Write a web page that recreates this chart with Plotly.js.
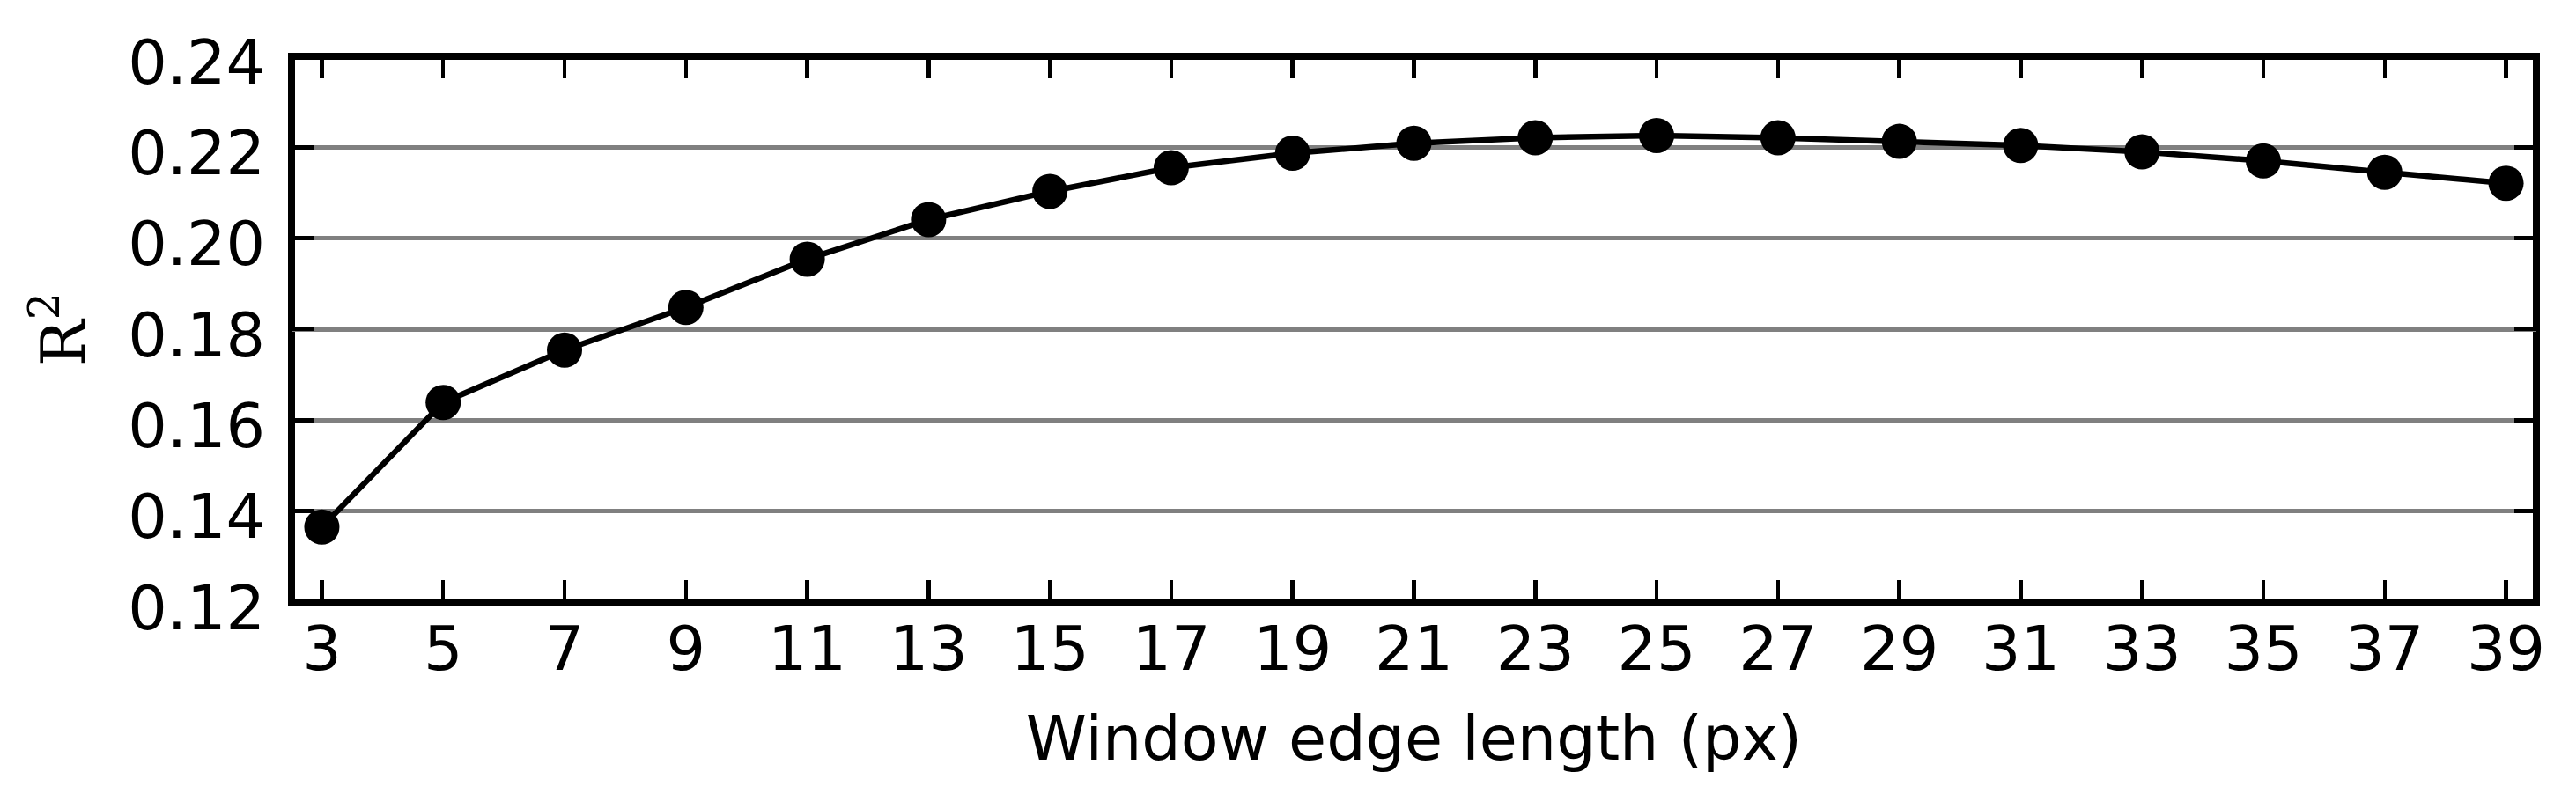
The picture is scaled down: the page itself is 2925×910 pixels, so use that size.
<!DOCTYPE html>
<html>
<head>
<meta charset="utf-8">
<script src="https://cdn.plot.ly/plotly-3.0.1.min.js"></script>
<style>
  html, body { margin: 0; padding: 0; background: #fff; }
  #chart { width: 2925px; height: 910px; }
</style>
</head>
<body>
<div id="chart"></div>
<script>
  // window edge length (px) vs R^2
  const windowSizes = [3, 5, 7, 9, 11, 13, 15, 17, 19, 21, 23, 25, 27, 29, 31, 33, 35, 37, 39];
  const r2Values = [
    0.1365, 0.1639, 0.1754, 0.1848, 0.1954, 0.2041, 0.2103, 0.2155, 0.2187, 0.2209,
    0.2221, 0.2226, 0.2221, 0.2213, 0.2204, 0.2190, 0.2170, 0.2145, 0.2121,
  ];
  const yTicks = [0.12, 0.14, 0.16, 0.18, 0.20, 0.22, 0.24];
  const yTickText = ["0.12", "0.14", "0.16", "0.18", "0.20", "0.22", "0.24"];

  const FONT = "DejaVu Sans, sans-serif";
  const FS = 70;

  const trace = {
    x: windowSizes,
    y: r2Values,
    type: "scatter",
    mode: "lines+markers",
    line: { color: "#000", width: 6.5 },
    marker: { color: "#000", size: 40 },
    hoverinfo: "skip",
  };

  const layout = {
    width: 2925,
    height: 910,
    margin: { l: 331, r: 45, t: 64, b: 226 },
    paper_bgcolor: "#fff",
    plot_bgcolor: "#fff",
    showlegend: false,
    font: { family: FONT, size: FS, color: "#000" },
    xaxis: {
      range: [2.5, 39.5],
      tickvals: windowSizes,
      ticktext: windowSizes.map(String),
      showgrid: false,
      zeroline: false,
      showline: false,
      ticks: "inside",
      ticklen: 25,
      tickwidth: 4.5,
      tickcolor: "#000",
      mirror: "ticks",
      tickfont: { family: FONT, size: FS, color: "#000" },
      ticklabelstandoff: 6,
      title: {
        text: "Window edge length (px)",
        font: { family: FONT, size: FS, color: "#000" },
        standoff: 36,
      },
      automargin: false,
    },
    yaxis: {
      range: [0.12, 0.24],
      tickvals: yTicks,
      ticktext: yTickText,
      showgrid: true,
      gridcolor: "#808080",
      gridwidth: 5,
      zeroline: false,
      showline: false,
      ticks: "inside",
      ticklen: 25,
      tickwidth: 4.5,
      tickcolor: "#000",
      mirror: "ticks",
      tickfont: { family: FONT, size: FS, color: "#000" },
      ticklabelstandoff: 29,
      ticklabelshift: 6,
      title: {
        text: "R<sup>2</sup>",
        font: { family: "DejaVu Serif, serif", size: FS, color: "#000" },
        standoff: 25,
      },
      automargin: false,
    },
    shapes: [
      {
        type: "rect",
        xref: "paper",
        yref: "paper",
        x0: 0,
        x1: 1,
        y0: 0,
        y1: 1,
        line: { color: "#000", width: 8 },
        layer: "below",
      },
    ],
  };

  Plotly.newPlot("chart", [trace], layout, { displayModeBar: false, staticPlot: true });
</script>
</body>
</html>
